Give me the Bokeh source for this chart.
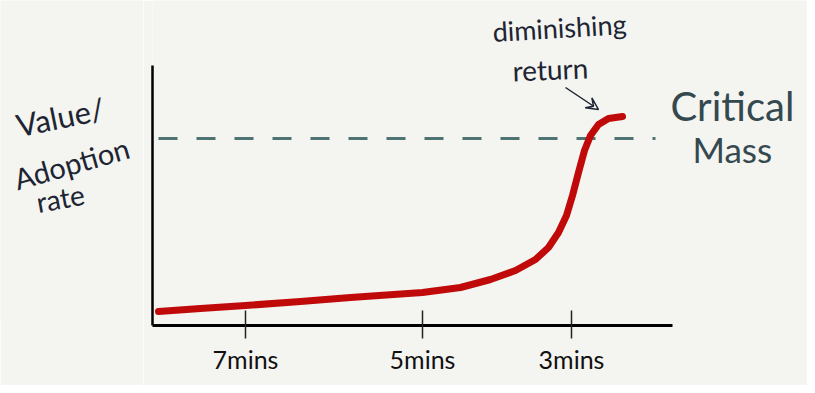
from bokeh.plotting import figure
from bokeh.layouts import row
from bokeh.models import Range1d, FixedTicker, Label, Arrow, VeeHead
from bokeh.embed import file_html
from bokeh.resources import INLINE

# ---- data (x: position along time axis, y: value / adoption rate) ----
curve_x = [6, 48, 93, 148, 198, 270, 308, 338, 363, 383, 396, 406, 414, 420, 426, 432, 438, 446, 456, 470]
curve_y = [14, 17, 20, 24, 28, 33, 38, 46, 55, 66, 78, 93, 110, 130, 153, 175, 190, 201, 207, 209]
tick_positions = [93, 270, 419]
tick_labels = ["7mins", "5mins", "3mins"]
critical_mass = 187
critical_x = [6, 503]
y_label_lines = ["Value/", "Adoption", "rate"]

BG = "#f4f4f0"
INK = "#1d2533"
TEAL = "#34494f"
FONT = "Lato"

# ---- left panel holding the hand-written y label ----
side = figure(width=143, height=385, output_backend="svg", toolbar_location=None,
              x_range=Range1d(0, 143), y_range=Range1d(-60, 325),
              min_border_left=0, min_border_right=0, min_border_top=0, min_border_bottom=0)
side.axis.visible = False
side.grid.visible = False
side.outline_line_color = None
side.background_fill_color = BG
side.border_fill_color = BG

for text, (lx, ly, size, ang) in zip(y_label_lines, [(16, 177, "31px", 0.2),
                                                       (14, 113, "29px", 0.28),
                                                       (36, 86, "28px", 0.18)]):
    side.add_layout(Label(x=lx, y=ly, text=text, text_font=FONT, text_font_size=size,
                          text_color=INK, text_baseline="middle", angle=ang))

# ---- main chart ----
p = figure(width=664, height=385, output_backend="svg", toolbar_location=None,
           x_range=Range1d(0, 655), y_range=Range1d(0, 325),
           min_border_left=9, min_border_right=0, min_border_top=0, min_border_bottom=60)
p.background_fill_color = BG
p.border_fill_color = BG
p.outline_line_color = None
p.grid.visible = False

xa = p.xaxis[0]
xa.ticker = FixedTicker(ticks=tick_positions)
xa.major_label_overrides = {t: l for t, l in zip(tick_positions, tick_labels)}
xa.bounds = (0, 520)
xa.axis_line_color = "black"
xa.axis_line_width = 3
xa.major_tick_in = 15
xa.major_tick_out = 13
xa.major_tick_line_color = "#222222"
xa.major_tick_line_width = 1.5
xa.minor_tick_line_color = None
xa.major_label_standoff = 5
xa.major_label_text_font = FONT
xa.major_label_text_font_size = "25px"
xa.major_label_text_color = "#111111"

ya = p.yaxis[0]
ya.ticker = FixedTicker(ticks=[])
ya.bounds = (0, 260)
ya.axis_line_color = "black"
ya.axis_line_width = 2.5
ya.major_tick_in = 0
ya.major_tick_out = 0
ya.major_tick_line_color = None
ya.minor_tick_line_color = None

# critical mass dashed line
p.line(critical_x, [critical_mass, critical_mass], line_color="#4d7373", line_width=3,
       line_dash="19 19")

# adoption curve
p.line(curve_x, curve_y, line_color="#c00a0a", line_width=7, line_cap="round", line_join="round")

def add_label(text, x, y, size, color, angle=0.0):
    p.add_layout(Label(x=x, y=y, text=text, text_font=FONT, text_font_size=size,
                       text_color=color, text_baseline="middle", angle=angle))

add_label("diminishing", 340, 294, "27px", INK, 0.06)
add_label("return", 360, 255, "28px", INK, 0.04)
add_label("Critical", 518, 220, "40px", TEAL)
add_label("Mass", 540, 177, "35px", TEAL)

p.add_layout(Arrow(x_start=413, y_start=238, x_end=446, y_end=216,
                   line_color=INK, line_width=1.5,
                   end=VeeHead(size=12, line_color=INK, line_width=1.5, fill_color=None)))

layout = row(side, p)
open("out.html", "w").write(file_html(layout, INLINE))
